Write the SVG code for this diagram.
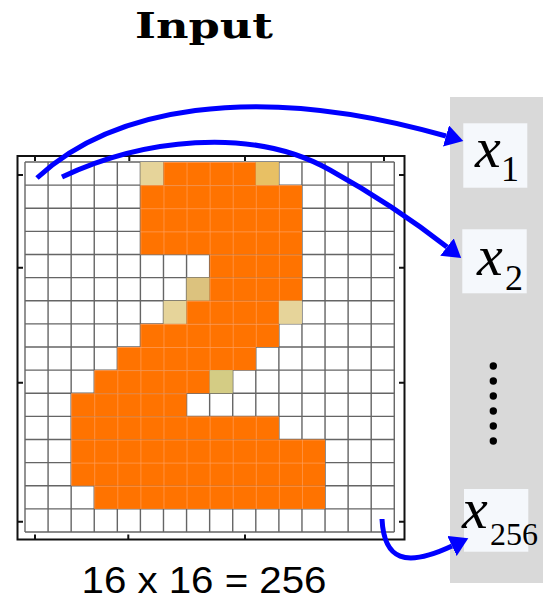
<svg xmlns="http://www.w3.org/2000/svg" width="543" height="602" viewBox="0 0 543 602">
<style>
.frame{fill:none;stroke:#111;stroke-width:2}
.tick{stroke:#111;stroke-width:2}
.box{fill:#F5F8FC}
.conn{fill:none;stroke:#0000FF;stroke-width:5;stroke-linecap:butt}
.o{fill:url(#orangeCell)}
.b1{fill:#E6D49A}
.b2{fill:#E8C064}
.b3{fill:#DCC27E}
.b4{fill:#D4CC84}
</style>
<defs>
<pattern id="orangeCell" patternUnits="userSpaceOnUse" width="1" height="1">
<rect width="1" height="1" fill="#FF7300"/>
<path d="M0,0H1M0,0V1" stroke="#FF9E5A" stroke-width="0.06" fill="none"/>
</pattern>
<marker id="head" markerUnits="userSpaceOnUse" markerWidth="20" markerHeight="22" refX="0" refY="11" orient="auto">
<path d="M0,0 L18,11 L0,22 z" fill="#0000FF"/>
</marker>
</defs>
<rect width="543" height="602" fill="#fff"/>

<g id="title">
<text x="135" y="38" font-family="DejaVu Serif, Liberation Serif, serif" font-weight="bold" font-size="36" textLength="138" lengthAdjust="spacingAndGlyphs">Input</text>
</g>

<g id="panel">
<rect x="450" y="97" width="93" height="486" fill="#D9D9D9"/>
</g>

<g id="input-grid">
<rect x="17.5" y="156" width="387" height="383.5" fill="#fff"/>
<g transform="translate(25,162) scale(23.08,23.125)">
<path vector-effect="non-scaling-stroke" stroke="#4a4a4a" stroke-width="1.4" fill="none" stroke-opacity="0.85"
 d="M0,0V16M1,0V16M2,0V16M3,0V16M4,0V16M5,0V16M6,0V16M7,0V16M8,0V16M9,0V16M10,0V16M11,0V16M12,0V16M13,0V16M14,0V16M15,0V16M16,0V16
 M0,0H16M0,1H16M0,2H16M0,3H16M0,4H16M0,5H16M0,6H16M0,7H16M0,8H16M0,9H16M0,10H16M0,11H16M0,12H16M0,13H16M0,14H16M0,15H16M0,16H16"/>
<rect class="b1" x="5" y="0" width="1" height="1"/>
<rect class="o" x="6" y="0" width="4" height="1"/>
<rect class="b2" x="10" y="0" width="1" height="1"/>
<rect class="o" x="5" y="1" width="7" height="3"/>
<rect class="o" x="8" y="4" width="4" height="1"/>
<rect class="b3" x="7" y="5" width="1" height="1"/>
<rect class="o" x="8" y="5" width="4" height="1"/>
<rect class="b1" x="6" y="6" width="1" height="1"/>
<rect class="o" x="7" y="6" width="4" height="1"/>
<rect class="b1" x="11" y="6" width="1" height="1"/>
<rect class="o" x="5" y="7" width="6" height="1"/>
<rect class="o" x="4" y="8" width="6" height="1"/>
<rect class="o" x="3" y="9" width="5" height="1"/>
<rect class="b4" x="8" y="9" width="1" height="1"/>
<rect class="o" x="2" y="10" width="5" height="1"/>
<rect class="o" x="2" y="11" width="9" height="1"/>
<rect class="o" x="2" y="12" width="11" height="2"/>
<rect class="o" x="3" y="14" width="10" height="1"/>
</g>
<rect class="frame" x="17.5" y="156" width="387" height="383.5"/>
<path class="tick" d="M35,156V161M129.3,156V161M245,156V161M384,156V161
 M35,539.5V534.5M128.3,539.5V534.5M245,539.5V534.5M384,539.5V534.5
 M17.5,175H23M17.5,267.7H23M17.5,382.7H23M17.5,521.7H23
 M404.5,175H399M404.5,267.7H399M404.5,382.7H399M404.5,521.7H399"/>
</g>

<g id="caption">
<text x="204" y="593" text-anchor="middle" font-family="Liberation Sans, Arial, sans-serif" font-size="36" textLength="245" lengthAdjust="spacingAndGlyphs">16 x 16 = 256</text>
</g>

<g id="x1">
<rect class="box" x="463.3" y="123.3" width="64" height="64.4"/>
<text x="475" y="167" font-family="Liberation Serif, DejaVu Serif, serif" font-style="italic" font-size="58">x</text>
<text x="501" y="181" font-family="Liberation Serif, DejaVu Serif, serif" font-size="36">1</text>
</g>
<g id="x2">
<rect class="box" x="462.3" y="229.3" width="64.4" height="64"/>
<text x="477" y="275" font-family="Liberation Serif, DejaVu Serif, serif" font-style="italic" font-size="58">x</text>
<text x="505" y="290" font-family="Liberation Serif, DejaVu Serif, serif" font-size="36">2</text>
</g>
<g id="dots" fill="#000">
<circle cx="493.3" cy="366" r="3.7"/>
<circle cx="493.3" cy="381" r="3.7"/>
<circle cx="493.3" cy="396" r="3.7"/>
<circle cx="493.3" cy="411" r="3.7"/>
<circle cx="493.3" cy="426" r="3.7"/>
<circle cx="493.3" cy="441" r="3.7"/>
</g>
<g id="x256">
<rect class="box" x="464" y="489" width="64.3" height="62.7"/>
<text x="462" y="528" font-family="Liberation Serif, DejaVu Serif, serif" font-style="italic" font-size="58">x</text>
<text x="490" y="545" font-family="Liberation Serif, DejaVu Serif, serif" font-size="32">256</text>
</g>

<g id="connectors">
<path class="conn" marker-end="url(#head)" d="M37,178 C110,110 250,80 446,136"/>
<path class="conn" marker-end="url(#head)" d="M62,177 C140,140 250,125 330,170 C375,195 415,222 447,247"/>
<path class="conn" marker-end="url(#head)" d="M382,519 C384,560 405,568 452,546"/>
</g>
</svg>
